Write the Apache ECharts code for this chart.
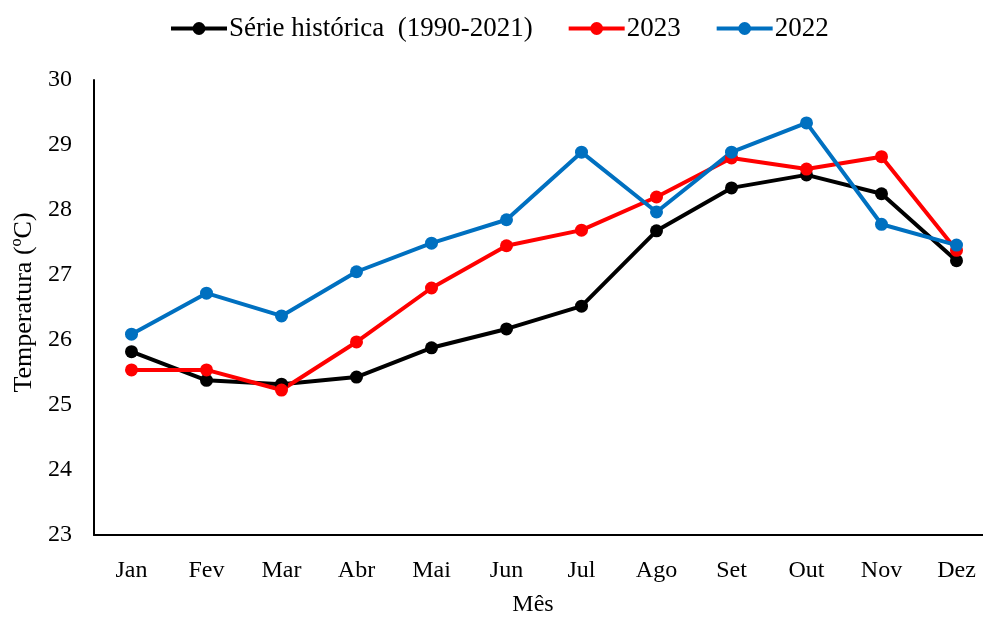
<!DOCTYPE html>
<html>
<head>
<meta charset="utf-8">
<script src="https://cdn.jsdelivr.net/npm/echarts@6/dist/echarts.min.js"></script>
<style>
  html, body { margin: 0; padding: 0; background: #fff; }
  #chart { width: 983px; height: 617px; }
</style>
</head>
<body>
<div id="chart"></div>
<script>
const meses = ['Jan', 'Fev', 'Mar', 'Abr', 'Mai', 'Jun', 'Jul', 'Ago', 'Set', 'Out', 'Nov', 'Dez']
const serieHistorica = [25.82, 25.38, 25.32, 25.43, 25.88, 26.17, 26.52, 27.68, 28.34, 28.54, 28.25, 27.22]
const ano2023 = [25.54, 25.54, 25.23, 25.97, 26.8, 27.45, 27.69, 28.2, 28.8, 28.63, 28.82, 27.38]
const ano2022 = [26.09, 26.72, 26.37, 27.05, 27.49, 27.85, 28.89, 27.97, 28.89, 29.34, 27.78, 27.46]

const fonte = '"Liberation Serif", "Times New Roman", serif'

function linha(nome, dados, cor) {
  return {
    name: nome,
    type: 'line',
    data: dados,
    symbol: 'circle',
    symbolSize: 13,
    lineStyle: { color: cor, width: 4 },
    itemStyle: { color: cor },
  }
}

const chart = echarts.init(document.getElementById('chart'))
chart.setOption({
  animation: false,
  textStyle: { fontFamily: fonte, color: '#000' },
  legend: {
    top: 10,
    left: 164,
    itemWidth: 56,
    itemHeight: 16,
    itemGap: 34,
    textStyle: { fontFamily: fonte, fontSize: 27, color: '#000', padding: [0, 0, 0, -3] },
    lineStyle: { width: 4 },
    data: ['Série histórica  (1990-2021)', '2023', '2022'],
  },
  grid: { left: 94, top: 80, width: 900, height: 455, outerBoundsMode: 'none' },
  xAxis: {
    type: 'category',
    data: meses,
    name: 'Mês',
    nameLocation: 'middle',
    nameGap: 58,
    nameTextStyle: { fontFamily: fonte, fontSize: 24, color: '#000', padding: [0, 22, 0, 0] },
    axisLine: { lineStyle: { color: '#000', width: 2 } },
    axisTick: { show: false },
    axisLabel: { fontFamily: fonte, fontSize: 24, color: '#000', margin: 24 },
  },
  yAxis: {
    type: 'value',
    min: 23,
    max: 30,
    interval: 1,
    name: 'Temperatura (ºC)',
    nameLocation: 'middle',
    nameGap: 57,
    nameTextStyle: { fontFamily: fonte, fontSize: 26, color: '#000', padding: [0, 0, 0, 10] },
    axisLine: { show: true, lineStyle: { color: '#000', width: 2 } },
    axisTick: { show: false },
    splitLine: { show: false },
    axisLabel: { fontFamily: fonte, fontSize: 24, color: '#000', margin: 22 },
  },
  series: [
    linha('Série histórica  (1990-2021)', serieHistorica, '#000000'),
    linha('2023', ano2023, '#ff0000'),
    linha('2022', ano2022, '#0070c0'),
  ],
})
</script>
</body>
</html>
